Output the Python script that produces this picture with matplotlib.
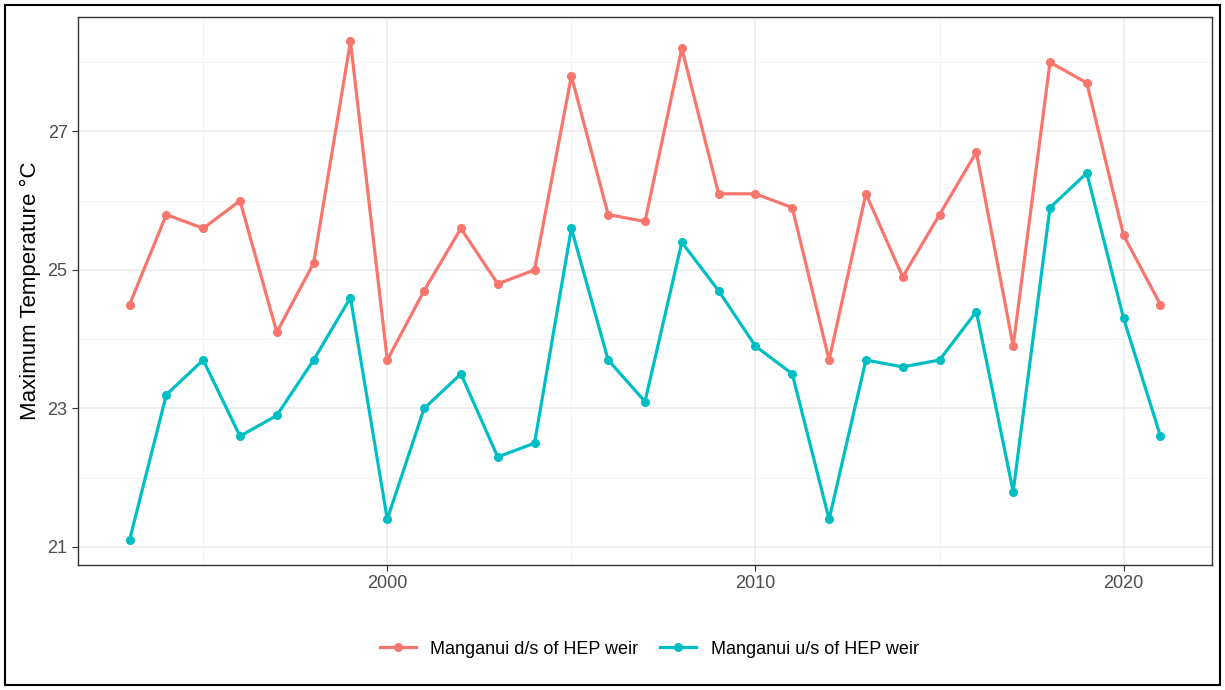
"""
Manganui maximum water temperature, d/s vs u/s of HEP weir.
"""
import numpy as np
import matplotlib
matplotlib.use('Agg')
import matplotlib.pyplot as plt
from matplotlib.patches import Rectangle

plt.rcParams['font.family'] = ['Liberation Sans', 'DejaVu Sans']

# ── data ──
years = list(range(1993, 2022))
downstream = [24.5, 25.8, 25.6, 26.0, 24.1, 25.1, 28.3, 23.7, 24.7, 25.6,
              24.8, 25.0, 27.8, 25.8, 25.7, 28.2, 26.1, 26.1, 25.9, 23.7,
              26.1, 24.9, 25.8, 26.7, 23.9, 28.0, 27.7, 25.5, 24.5]
upstream = [21.1, 23.2, 23.7, 22.6, 22.9, 23.7, 24.6, 21.4, 23.0, 23.5,
            22.3, 22.5, 25.6, 23.7, 23.1, 25.4, 24.7, 23.9, 23.5, 21.4,
            23.7, 23.6, 23.7, 24.4, 21.8, 25.9, 26.4, 24.3, 22.6]
labels = ["Manganui d/s of HEP weir", "Manganui u/s of HEP weir"]
colors = ['#F8766D', '#00BFC4']
x_ticks = [2000, 2010, 2020]
y_ticks = [21, 23, 25, 27]


def plot_temps():
    fig = plt.figure(figsize=(12.25, 6.9), dpi=100)
    ax = fig.add_axes([78 / 1225, 1 - 565 / 690, (1212 - 78) / 1225, (565 - 16.5) / 690])

    for vals, lab, col in zip([downstream, upstream], labels, colors):
        ax.plot(years, vals, color=col, linewidth=2.3, marker='o', markersize=5.5, label=lab)

    # ggplot-style expansion (5%)
    lo, hi = min(upstream + downstream), max(upstream + downstream)
    pad = (hi - lo) * 0.05
    ax.set_ylim(lo - pad, hi + pad)
    xpad = (years[-1] - years[0]) * 0.05
    ax.set_xlim(years[0] - xpad, years[-1] + xpad)

    ax.set_xticks(x_ticks)
    ax.set_yticks(y_ticks)
    ax.set_xticks([1995, 2005, 2015], minor=True)
    ax.set_yticks([22, 24, 26, 28], minor=True)
    ax.grid(True, which='major', color='#EBEBEB', linewidth=1.1)
    ax.grid(True, which='minor', color='#F2F2F2', linewidth=0.6)
    ax.set_axisbelow(True)
    ax.tick_params(which='major', length=4, color='#333333', labelsize=13, labelcolor='#4D4D4D')
    ax.tick_params(which='minor', length=0)
    for sp in ax.spines.values():
        sp.set_color('#333333')
        sp.set_linewidth(1.0)

    ax.set_ylabel('Maximum Temperature °C', fontsize=16, labelpad=5)

    fig.legend(*ax.get_legend_handles_labels(), loc='center', bbox_to_anchor=(0.53, 1 - 649 / 690),
               ncol=2, frameon=False, fontsize=13, handlelength=2.0, columnspacing=1.2)

    fig.patches.append(Rectangle((5 / 1225, 5 / 690), 1 - 10 / 1225, 1 - 10 / 690,
                                 transform=fig.transFigure, fill=False,
                                 edgecolor='black', linewidth=1.5))
    fig.savefig('out.png', dpi=100)
    plt.close(fig)


if __name__ == '__main__':
    plot_temps()
